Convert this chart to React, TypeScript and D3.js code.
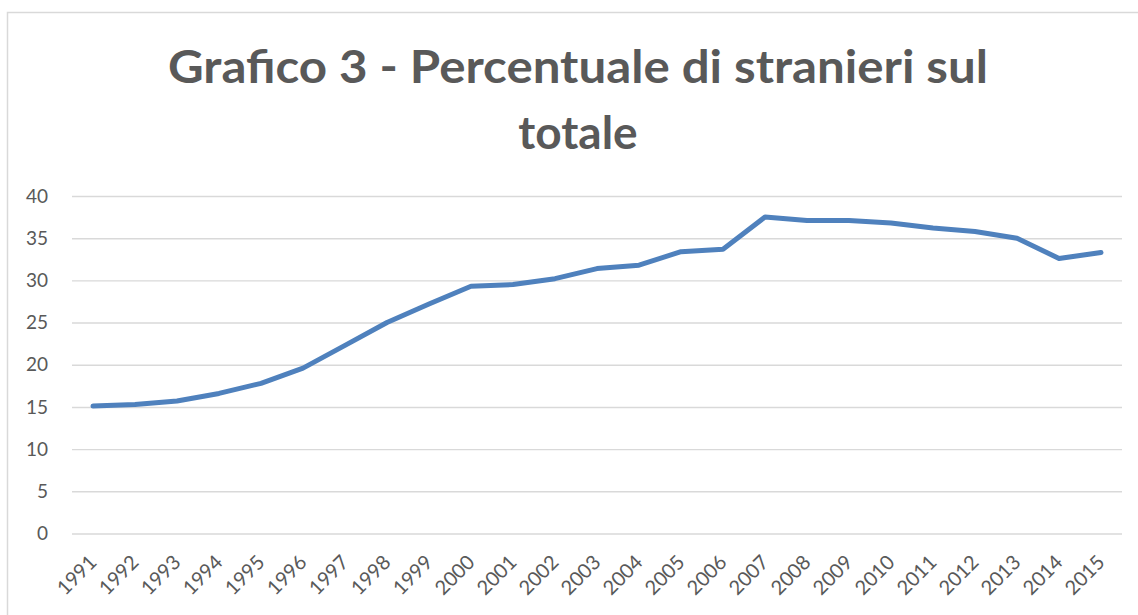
import { useEffect, useRef } from "react";
import { axisLeft, line, scaleBand, scaleLinear, select } from "d3";

const years = [
    "1991", "1992", "1993", "1994", "1995", "1996", "1997", "1998", "1999", "2000",
    "2001", "2002", "2003", "2004", "2005", "2006", "2007", "2008", "2009", "2010",
    "2011", "2012", "2013", "2014", "2015",
];

const share = [
    15.1, 15.3, 15.7, 16.6, 17.8, 19.6, 22.3, 25.0, 27.2, 29.3,
    29.5, 30.2, 31.4, 31.8, 33.4, 33.7, 37.5, 37.1, 37.1, 36.8,
    36.2, 35.8, 35.0, 32.6, 33.3,
];

const yTicks = [0, 5, 10, 15, 20, 25, 30, 35, 40];

const titleLines = ["Grafico 3 - Percentuale di stranieri sul", "totale"];

const W = 1138;
const H = 615;
const plot = { left: 72, right: 1122, top: 196, bottom: 533.5 };
const textColor = "#595959";
const font = "Lato, 'Open Sans', sans-serif";

const AxisY = ({ scale }: { scale: any }) => {
    const ref = useRef<SVGGElement>(null);
    useEffect(() => {
        if (!ref.current) return;
        const g = select(ref.current);
        g.call(
            axisLeft(scale)
                .tickValues(yTicks)
                .tickSize(-(plot.right - plot.left))
                .tickPadding(24)
        );
        g.select(".domain").remove();
        g.selectAll(".tick line").attr("stroke", "#d9d9d9").attr("stroke-width", 1.4);
        g.selectAll(".tick text")
            .attr("fill", textColor)
            .style("font-family", font)
            .style("font-size", "19px");
    }, [scale]);
    return <g ref={ref} transform={`translate(${plot.left},0)`} />;
};

export default function App() {
    useEffect(() => {
        document.body.style.margin = "0";
    }, []);

    const x = scaleBand<string>().domain(years).range([plot.left, plot.right]);
    const y = scaleLinear().domain([0, 40]).range([plot.bottom, plot.top]);

    const path = line<number>()
        .x((_, i) => (x(years[i]) ?? 0) + x.bandwidth() / 2)
        .y((d) => y(d))(share);

    return (
        <svg width={W} height={H} style={{ display: "block", background: "#fff" }}>
            <rect x={7.5} y={12.5} width={1140} height={620} fill="#fff" stroke="#d9d9d9" strokeWidth={1.5} />
            <text
                x={578}
                y={83}
                textAnchor="middle"
                fill={textColor}
                fontFamily={font}
                fontWeight={700}
                fontSize={46}
                textLength={820}
                lengthAdjust="spacingAndGlyphs"
            >
                {titleLines[0]}
            </text>
            <text
                x={578}
                y={149}
                textAnchor="middle"
                fill={textColor}
                fontFamily={font}
                fontWeight={700}
                fontSize={46}
            >
                {titleLines[1]}
            </text>
            <AxisY scale={y} />
            <g>
                {years.map((yr) => {
                    const cx = (x(yr) ?? 0) + x.bandwidth() / 2;
                    return (
                        <text
                            key={yr}
                            transform={`translate(${cx + 5},${plot.bottom + 30}) rotate(-45)`}
                            textAnchor="end"
                            fill={textColor}
                            fontFamily={font}
                            fontSize={20}
                        >
                            {yr}
                        </text>
                    );
                })}
            </g>
            <path
                d={path ?? ""}
                fill="none"
                stroke="#4f81bd"
                strokeWidth={5}
                strokeLinecap="round"
                strokeLinejoin="round"
            />
        </svg>
    );
}
